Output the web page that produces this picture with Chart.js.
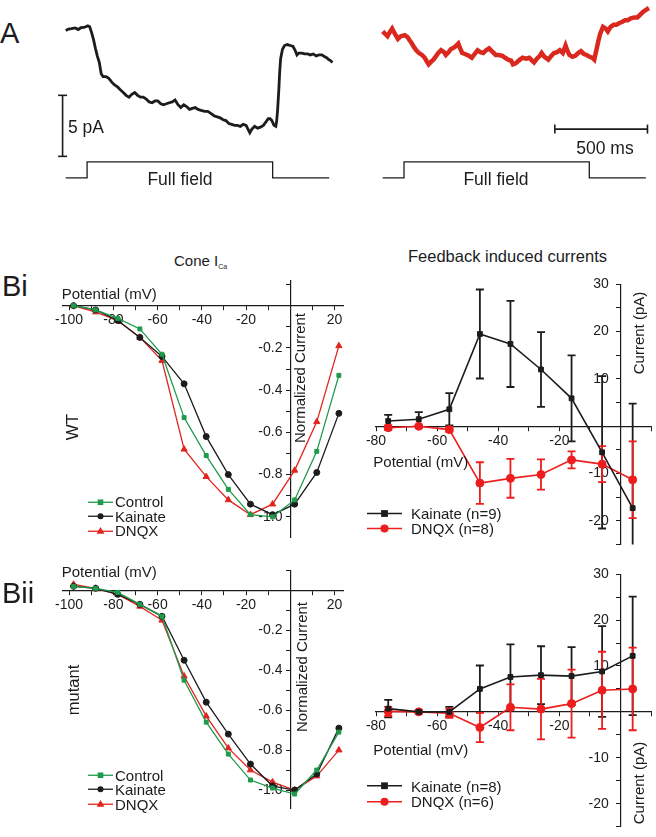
<!DOCTYPE html>
<html lang="en">
<head>
<meta charset="UTF-8">
<title>Cone ICa and feedback induced currents</title>
<script src="https://cdn.jsdelivr.net/npm/chart.js"></script>
<style>
  body { margin: 0; background: #fff; }
  #fig {
    position: relative; width: 656px; height: 837px; overflow: hidden;
    font-family: 'Liberation Sans', Arial, sans-serif; color: #1c1c1c;
  }
  #fig canvas { position: absolute; }
  .t { position: absolute; white-space: nowrap; line-height: 1; font-size: 15px; }
  .c { transform: translate(-50%, -50%); }
  .l { transform: translate(0, -50%); }
  .r90 { transform: translate(-50%, -50%) rotate(-90deg); }
  .panel { font-size: 29px; }
  .big { font-size: 17.5px; }
  .legend { position: absolute; font-size: 15px; line-height: 1; }
  .legend div { display: flex; align-items: center; white-space: nowrap; }
  .legend svg { flex: none; }
  sub { font-size: 7px; vertical-align: -3px; }
</style>
</head>
<body>
<div id="fig">
  <canvas id="traceBlack" width="300" height="200" style="left:50px;top:0"></canvas>
  <canvas id="traceRed" width="290" height="200" style="left:366px;top:0"></canvas>
  <canvas id="ivWT" width="330" height="285" style="left:30px;top:270px"></canvas>
  <canvas id="fbWT" width="296" height="285" style="left:360px;top:270px"></canvas>
  <canvas id="ivMut" width="330" height="265" style="left:30px;top:560px"></canvas>
  <canvas id="fbMut" width="296" height="277" style="left:360px;top:560px"></canvas>

  <!-- panel A text -->
  <div class="t panel l" style="left:0;top:32.7px">A</div>
  <div class="t big l" style="left:68px;top:127.7px">5 pA</div>
  <div class="t big c" style="left:605px;top:149.3px">500 ms</div>
  <div class="t big c" style="left:180px;top:180px">Full field</div>
  <div class="t big c" style="left:496px;top:180px">Full field</div>

  <!-- panel B text -->
  <div class="t l" style="left:174px;top:260.8px">Cone I<sub>Ca</sub></div>
  <div class="t c" style="left:507.5px;top:256.3px;font-size:16.5px">Feedback induced currents</div>
  <div class="t panel l" style="left:2px;top:285.8px">Bi</div>
  <div class="t panel l" style="left:2px;top:593.3px">Bii</div>
  <div class="t r90" style="left:71.7px;top:427.3px;font-size:17px">WT</div>
  <div class="t r90" style="left:72.5px;top:690px;font-size:16.5px">mutant</div>

  <div class="t l" style="left:61.7px;top:293.2px">Potential (mV)</div>
  <div class="t r90" style="left:299.2px;top:378px">Normalized Current</div>
  <div class="t l" style="left:373.3px;top:460.5px">Potential (mV)</div>
  <div class="t r90" style="left:638.3px;top:332.5px">Current (pA)</div>

  <div class="t l" style="left:61.7px;top:571.3px">Potential (mV)</div>
  <div class="t r90" style="left:300.8px;top:666.7px">Normalized Current</div>
  <div class="t l" style="left:373.3px;top:748.5px">Potential (mV)</div>
  <div class="t r90" style="left:638.3px;top:783.3px">Current (pA)</div>
</div>

<script>
// ---- A: example traces, time (ms) from light onset, current (pA) ----
const blackTime = [-115,-100,-84,-64,-48,-33,-17,4,14,24,
  35,45,55,66,76,86,102,117,133,148,
  164,179,195,210,226,241,257,272,288,303,
  319,335,350,366,381,397,412,428,443,459,
  474,490,505,521,536,552,567,583,598,614,
  634,650,665,686,702,717,733,748,764,779,
  795,810,826,841,857,867,877,888,903,919,
  934,950,965,976,986,996,1007,1017,1022,1027,
  1033,1038,1043,1053,1064,1079,1095,1110,1121,1131,
  1141,1157,1172,1188,1203,1219,1234,1250,1265,1281,
  1291,1302,1312,1322];
const blackCurrent = [0,0.12,0.15,0.21,0.08,0.23,0.25,0.38,0.31,-0.15,
  -0.77,-1.46,-2.08,-2.62,-3.54,-3.77,-3.77,-3.92,-4.23,-4.46,
  -4.62,-4.85,-5.08,-5.31,-5.46,-5.23,-5.08,-5.31,-5.46,-5.46,
  -5.62,-5.85,-5.92,-5.77,-5.77,-6.0,-6.08,-6.0,-5.92,-5.85,
  -5.69,-6.08,-6.31,-6.08,-6.23,-6.46,-6.38,-6.31,-6.46,-6.54,
  -6.62,-6.62,-6.77,-7.0,-7.08,-7.15,-7.31,-7.38,-7.62,-7.69,
  -7.77,-7.77,-7.85,-7.69,-7.77,-8.08,-8.38,-8.08,-7.85,-8.0,
  -7.92,-7.77,-7.46,-7.23,-7.23,-7.38,-7.77,-7.85,-7.38,-6.46,
  -4.92,-3.38,-2.31,-1.54,-1.23,-1.15,-1.23,-1.31,-1.62,-2.0,
  -1.85,-1.85,-1.92,-1.92,-2.0,-1.92,-2.08,-2.0,-2.0,-2.15,
  -2.23,-2.38,-2.46,-2.62];
const redTime = [-115,-100,-89,-74,-64,-48,-33,-17,4,19,
  29,40,55,66,81,97,112,123,133,148,
  159,174,185,200,216,226,241,252,262,278,
  293,303,314,329,350,366,381,397,412,428,
  443,459,474,495,510,531,546,562,578,588,
  603,619,640,660,676,691,702,717,733,743,
  758,779,795,810,826,841,857,872,883,893,
  909,924,940,955,971,986,1002,1017,1027,1038,
  1048,1058,1074,1089,1100,1115,1131,1146,1162,1177,
  1193,1208,1224,1244,1260,1275,1291,1306,1322];
const redCurrent = [0.08,-0.15,-0.31,0.08,0.31,-0.15,-0.54,-0.31,-0.23,-0.38,
  -0.62,-0.85,-1.23,-1.46,-1.69,-1.85,-2.08,-2.38,-2.62,-2.38,
  -2.23,-1.92,-1.69,-1.46,-1.62,-1.85,-1.62,-1.38,-1.31,-1.15,
  -0.92,-1.31,-1.69,-1.77,-1.92,-2.08,-1.77,-1.46,-1.62,-1.69,
  -1.46,-1.31,-1.54,-1.85,-1.85,-1.92,-2.08,-2.23,-2.31,-2.62,
  -2.54,-2.31,-2.08,-2.15,-2.08,-2.31,-2.46,-2.15,-1.92,-1.69,
  -2.0,-2.23,-1.92,-1.69,-1.62,-1.46,-1.69,-1.08,-1.54,-1.85,
  -2.0,-1.92,-1.69,-1.54,-1.77,-1.85,-2.0,-2.08,-2.23,-1.46,
  -0.77,-0.15,0.46,0.31,0.08,0.46,0.62,0.62,0.77,0.85,
  1.0,1.0,1.15,1.23,1.23,1.46,1.69,1.85,2.0];
const lightTime = [-115, 0, 0, 1000, 1000, 1305];
const lightLevel = [0, 0, 1, 1, 0, 0];

// ---- B left: normalized cone ICa vs potential ----
const ivVoltage = [-98, -88, -78, -68, -58, -48, -38, -28, -18, -8, 2, 12, 22];
const wtControl = [0, -0.02, -0.06, -0.11, -0.23, -0.53, -0.71, -0.87, -0.99, -1.0, -0.92, -0.69, -0.33];
const wtKainate = [0, -0.02, -0.07, -0.15, -0.24, -0.37, -0.62, -0.80, -0.94, -0.99, -0.94, -0.79, -0.51];
const wtDnqx = [0, -0.03, -0.07, -0.15, -0.26, -0.68, -0.81, -0.92, -0.99, -0.94, -0.78, -0.55, -0.19];
const mutControl = [0.02, 0.01, -0.01, -0.07, -0.13, -0.45, -0.66, -0.82, -0.95, -0.99, -1.02, -0.90, -0.71];
const mutKainate = [0.02, 0.01, -0.02, -0.07, -0.13, -0.35, -0.56, -0.72, -0.87, -0.98, -1.0, -0.92, -0.69];
const mutDnqx = [0.03, 0.01, -0.02, -0.08, -0.15, -0.43, -0.63, -0.79, -0.90, -0.96, -1.0, -0.93, -0.80];

// ---- B right: feedback induced currents (pA), mean and error ----
const fbVoltage = [-76, -66, -56, -46, -36, -26, -16, -6, 4];
const wtFbKainate = [1.1, 1.5, 3.6, 19.5, 17.4, 12.0, 5.9, -5.5, -17.3];
const wtFbKainateErr = [1.3, 1.5, 3.4, 9.4, 9.1, 7.9, 9.1, 16.1, 22.1];
const wtFbDnqx = [-0.3, 0, -0.7, -12.0, -11.0, -10.2, -7.1, -8.0, -11.3];
const wtFbDnqxErr = [0.5, 0.3, 0.5, 4.4, 4.1, 3.2, 1.8, 3.8, 8.1];
const mutFbKainate = [0.7, 0, 0, 5.0, 7.6, 8.0, 7.8, 8.8, 12.2];
const mutFbKainateErr = [1.9, 0.3, 1.1, 5.1, 7.1, 6.3, 6.3, 9.9, 12.9];
const mutFbDnqx = [0.1, 0, -0.3, -3.4, 1.0, 0.6, 1.8, 4.7, 5.0];
const mutFbDnqxErr = [1.0, 0.3, 1.0, 3.2, 5.0, 6.6, 7.4, 8.4, 9.0];

// ---- ticks ----
const ivXTicks = [-100, -90, -80, -70, -60, -50, -40, -30, -20, -10, 0, 10, 20];
const ivXLabels = [-100, -80, -60, -40, -20, 20];
const ivYTicks = [-1.0, -0.9, -0.8, -0.7, -0.6, -0.5, -0.4, -0.3, -0.2, -0.1, 0, 0.1];
const ivYLabels = [-1.0, -0.8, -0.6, -0.4, -0.2];
const fbXTicks = [-80, -70, -60, -50, -40, -30, -20, -10, 0, 10];
const fbXLabels = [-80, -60, -40, -20];
const fbYTicks = [-25, -20, -15, -10, -5, 0, 5, 10, 15, 20, 25, 30];
const fbYLabels = [-20, -10, 10, 20, 30];

const INK = '#1c1c1c';
const GREEN = '#1f9a4c';
const RED = '#e2241e';
const RED_FB = '#ee1d1d';
const RED_TRACE = '#d9291f';

Chart.defaults.font.family = "'Liberation Sans', Arial, sans-serif";
Chart.defaults.font.size = 14;
Chart.defaults.color = INK;
Chart.defaults.animation = false;
Chart.defaults.plugins.legend.display = false;
Chart.defaults.plugins.tooltip.enabled = false;

const xy = (xs, ys) => xs.map((v, i) => ({x: v, y: ys[i]}));

// error bars for the feedback plots, drawn under the markers
const errorBars = {
  id: 'errorBars',
  beforeDatasetsDraw(chart) {
    const {ctx, chartArea: a, scales: {x, y}} = chart;
    ctx.save();
    ctx.beginPath();
    ctx.rect(a.left, a.top, a.right - a.left, a.bottom - a.top);
    ctx.clip();
    chart.data.datasets.forEach(ds => {
      if (!ds.errors) return;
      ctx.strokeStyle = ds.borderColor;
      ctx.lineWidth = 1.8;
      ds.data.forEach((p, i) => {
        const px = x.getPixelForValue(p.x);
        const top = y.getPixelForValue(p.y + ds.errors[i]);
        const bot = y.getPixelForValue(p.y - ds.errors[i]);
        ctx.beginPath();
        ctx.moveTo(px, top); ctx.lineTo(px, bot);
        ctx.moveTo(px - 4, top); ctx.lineTo(px + 4, top);
        ctx.moveTo(px - 4, bot); ctx.lineTo(px + 4, bot);
        ctx.stroke();
      });
    });
    ctx.restore();
  }
};

// axis crossing the other one at a data value (Origin style)
function crossAxis(axis, min, max, crossAt, ticks, labels, fmt) {
  return {
    type: 'linear', axis, min, max, position: crossAt,
    afterBuildTicks: s => { s.ticks = ticks.map(v => ({value: v})); },
    ticks: {
      autoSkip: false, maxRotation: 0, padding: 2,
      callback: v => labels.includes(v) ? fmt(v) : ''
    },
    grid: { drawOnChartArea: false, tickLength: 4, color: INK, lineWidth: 1 },
    border: { color: INK, width: 1.2 }
  };
}

// ---- A charts ----
function traceChart(id, time, current, color, width, xRange, yRange, bar) {
  return new Chart(document.getElementById(id), {
    type: 'line',
    data: {
      datasets: [
        { data: xy(time, current), borderColor: color, borderWidth: width, pointRadius: 0, tension: 0 },
        { data: xy(lightTime, lightLevel), yAxisID: 'ys', borderColor: INK, borderWidth: 1.3, pointRadius: 0 },
        Object.assign({ borderColor: INK, borderWidth: 1.6, pointStyle: 'line', pointRadius: 4.5,
                        pointBorderWidth: 1.6, pointBorderColor: INK }, bar)
      ]
    },
    options: {
      responsive: false,
      devicePixelRatio: 1,
      layout: { padding: 0 },
      scales: {
        x: { type: 'linear', display: false, min: xRange[0], max: xRange[1] },
        y: { display: false, min: yRange[0], max: yRange[1] },
        ys: { display: false, min: -1, max: 10.765 }
      }
    }
  });
}

traceChart('traceBlack', blackTime, blackCurrent, INK, 2.8, [-167, 1384], [-13.385, 2.0],
  { data: [{x: -132, y: -5.31}, {x: -132, y: -10.31}] });
traceChart('traceRed', redTime, redCurrent, RED_TRACE, 4.5, [-172.2, 1327.1], [-13.23, 2.154],
  { data: [{x: 814, y: -7.92}, {x: 1314, y: -7.92}], pointRotation: 90 });

// ---- B left charts ----
function ivSet(label, vals, color, style, r) {
  return {
    label, data: xy(ivVoltage, vals), borderColor: color, backgroundColor: color,
    borderWidth: 1.3, pointStyle: style, pointRadius: r, pointBorderWidth: 1,
    pointBorderColor: color, pointBackgroundColor: color, tension: 0, clip: false
  };
}

function ivChart(id, control, kainate, dnqx, yMin, yMax, pad) {
  return new Chart(document.getElementById(id), {
    type: 'line',
    data: {
      datasets: [
        ivSet('Control', control, GREEN, 'rect', 2.8),
        ivSet('Kainate', kainate, INK, 'circle', 3),
        ivSet('DNQX', dnqx, RED, 'triangle', 3.6)
      ]
    },
    options: {
      responsive: false,
      devicePixelRatio: 1,
      layout: { padding: pad },
      scales: {
        x: crossAxis('x', -103, 24, {y: 0}, ivXTicks, ivXLabels, v => String(v)),
        // trailing spaces keep the labels off the axis line
        y: crossAxis('y', yMin, yMax, {x: 0}, ivYTicks, ivYLabels, v => v.toFixed(1) + '  ')
      }
    }
  });
}

const ivWT = ivChart('ivWT', wtControl, wtKainate, wtDnqx, -1.1, 0.12,
  {left: 32.5, right: 16.7, top: 9.6, bottom: 17.1});
const ivMut = ivChart('ivMut', mutControl, mutKainate, mutDnqx, -1.09, 0.1,
  {left: 32.5, right: 16.7, top: 10, bottom: 17});

// ---- B right charts ----
function fbSet(label, vals, errs, color, style, r) {
  return {
    label, data: xy(fbVoltage, vals), errors: errs, borderColor: color, backgroundColor: color,
    borderWidth: 1.6, pointStyle: style, pointRadius: r, pointBorderWidth: 1,
    pointBorderColor: color, pointBackgroundColor: color, tension: 0, clip: false
  };
}

function fbChart(id, kainate, kErr, dnqx, dErr, nK, nD, pad) {
  return new Chart(document.getElementById(id), {
    type: 'line',
    data: {
      datasets: [
        fbSet('Kainate (n=' + nK + ')', kainate, kErr, INK, 'rect', 3.4),
        fbSet('DNQX (n=' + nD + ')', dnqx, dErr, RED_FB, 'circle', 4)
      ]
    },
    plugins: [errorBars],
    options: {
      responsive: false,
      devicePixelRatio: 1,
      layout: { padding: pad },
      scales: {
        x: crossAxis('x', -80, 10, {y: 0}, fbXTicks, fbXLabels, v => String(v)),
        y: crossAxis('y', -25, 30, {x: 0}, fbYTicks, fbYLabels, v => String(v) + '   ')
      }
    }
  });
}

const fbWT = fbChart('fbWT', wtFbKainate, wtFbKainateErr, wtFbDnqx, wtFbDnqxErr, 9, 8,
  {left: 16, right: 1, top: 14.3, bottom: 8.4});
const fbMut = fbChart('fbMut', mutFbKainate, mutFbKainateErr, mutFbDnqx, mutFbDnqxErr, 8, 6,
  {left: 16, right: 1, top: 14.2, bottom: 0.4});

// ---- legends: line + marker, built from the datasets ----
function legend(chart, left, top, rowH, lineLen, gap) {
  const box = document.createElement('div');
  box.className = 'legend';
  box.style.left = left + 'px';
  box.style.top = top + 'px';
  chart.data.datasets.forEach(ds => {
    const c = ds.borderColor, r = ds.pointRadius, m = lineLen / 2, h = rowH / 2;
    let mark;
    if (ds.pointStyle === 'rect') {
      mark = `<rect x="${m - r}" y="${h - r}" width="${2 * r}" height="${2 * r}" fill="${c}"/>`;
    } else if (ds.pointStyle === 'triangle') {
      mark = `<polygon points="${m},${h - r * 1.2} ${m - r * 1.1},${h + r * 0.7} ${m + r * 1.1},${h + r * 0.7}" fill="${c}"/>`;
    } else {
      mark = `<circle cx="${m}" cy="${h}" r="${r}" fill="${c}"/>`;
    }
    const row = document.createElement('div');
    row.style.height = rowH + 'px';
    row.innerHTML = `<svg width="${lineLen}" height="${rowH}"><line x1="0" y1="${h}" x2="${lineLen}" y2="${h}" stroke="${c}" stroke-width="${ds.borderWidth}"/>${mark}</svg><span style="margin-left:${gap}px">${ds.label}</span>`;
    box.appendChild(row);
  });
  document.getElementById('fig').appendChild(box);
}

legend(ivWT, 88, 494.5, 14.5, 25, 2);
legend(ivMut, 88, 767.8, 14.5, 25, 2);
legend(fbWT, 367, 505.8, 15, 35, 9);
legend(fbMut, 367, 778.3, 15.5, 35, 9);
</script>
</body>
</html>
